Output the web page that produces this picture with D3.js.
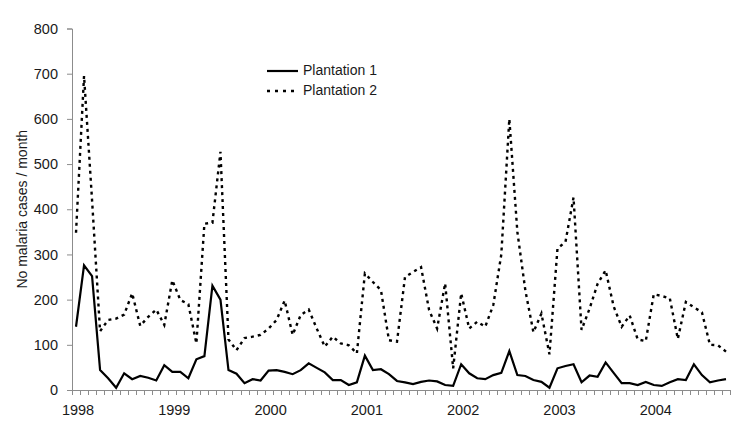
<!DOCTYPE html>
<html>
<head>
<meta charset="utf-8">
<script src="https://cdn.jsdelivr.net/npm/d3@7"></script>
<style>
  html, body { margin: 0; padding: 0; background: #fff; }
  svg { display: block; font-family: "Liberation Sans", Arial, sans-serif; }
</style>
</head>
<body>
<svg id="chart" width="750" height="445"></svg>
<script>
// ---- data (monthly, Jan 1998 – Oct 2004) ----
const startYear = 1998;
const monthCount = 82;
const yearLabels = ["1998", "1999", "2000", "2001", "2002", "2003", "2004"];
const yTicks = [0, 100, 200, 300, 400, 500, 600, 700, 800];
const seriesNames = ["Plantation 1", "Plantation 2"];
const plantation1 = [
  140, 276, 252, 44, 26, 5, 37, 24, 31, 27, 21, 55,
  40, 40, 26, 68, 75, 231, 200, 44, 36, 15, 24, 21,
  43, 44, 40, 35, 44, 59, 49, 39, 22, 22, 11, 17,
  76, 44, 46, 35, 20, 17, 13, 18, 21, 19, 11, 9,
  57, 37, 26, 24, 33, 38, 86, 33, 31, 22, 18, 5,
  48, 53, 57, 17, 32, 29, 61, 38, 15, 15, 11, 18,
  11, 9, 17, 24, 22, 57, 33, 17, 21, 24
];
const plantation2 = [
  348, 695, 420, 130, 155, 158, 167, 214, 142, 162, 178, 144,
  243, 199, 190, 103, 368, 370, 527, 112, 88, 115, 118, 122,
  136, 155, 198, 122, 166, 178, 136, 96, 118, 103, 99, 81,
  258, 239, 221, 110, 107, 250, 261, 272, 177, 136, 236, 48,
  214, 136, 151, 140, 188, 300, 600, 350, 220, 128, 169, 79,
  313, 328, 426, 133, 180, 235, 265, 185, 140, 165, 112, 108,
  212, 208, 203, 113, 195, 183, 172, 100, 99, 85
];

// ---- layout ----
const svg = d3.select("#chart");
const plotLeft = 72, plotRight = 730, plotBottom = 390, plotTop = 28.5;
const months = d3.range(monthCount);

const x = d3.scaleBand().domain(months).range([plotLeft, plotRight]).paddingInner(0).paddingOuter(0);
const y = d3.scaleLinear().domain([0, 800]).range([plotBottom, plotTop]);
const cx = i => x(i) + x.bandwidth() / 2;

const axisColor = "#8c8c8c";
const textColor = "#1a1a1a";

// y axis
const yAxis = svg.append("g").attr("transform", `translate(${plotLeft},0)`)
  .call(d3.axisLeft(y).tickValues(yTicks).tickSize(5).tickPadding(9).tickFormat(d3.format("d")));
yAxis.select(".domain").attr("stroke", axisColor).attr("stroke-width", 1);
yAxis.selectAll(".tick line").attr("stroke", axisColor);
yAxis.selectAll(".tick text").attr("fill", textColor).style("font-size", "14.5px")
  .style("font-family", "'Liberation Sans', Arial, sans-serif");

// x axis: ticks at category boundaries
const xg = svg.append("g");
xg.append("line").attr("x1", plotLeft).attr("x2", plotRight).attr("y1", plotBottom + 0.5).attr("y2", plotBottom + 0.5)
  .attr("stroke", axisColor).attr("stroke-width", 1);
const boundaries = d3.range(monthCount + 1);
xg.selectAll("line.tk").data(boundaries).join("line").attr("class", "tk")
  .attr("x1", d => Math.round(plotLeft + d * x.bandwidth()) + 0.5)
  .attr("x2", d => Math.round(plotLeft + d * x.bandwidth()) + 0.5)
  .attr("y1", plotBottom).attr("y2", plotBottom + 5)
  .attr("stroke", axisColor).attr("stroke-width", 1);
xg.selectAll("text.yr").data(yearLabels).join("text").attr("class", "yr")
  .attr("x", (d, i) => cx(i * 12) + 2)
  .attr("y", 411)
  .attr("text-anchor", "middle").attr("dominant-baseline", "middle")
  .attr("fill", textColor).style("font-size", "14.5px")
  .text(d => d);

// y title
svg.append("text")
  .attr("transform", `translate(23,${(plotTop + plotBottom) / 2}) rotate(-90)`)
  .attr("text-anchor", "middle").attr("dominant-baseline", "middle")
  .attr("fill", textColor).style("font-size", "14px")
  .text("No malaria cases / month");

// lines
const line = d3.line().x((d, i) => cx(i)).y(d => y(d));
svg.append("path").datum(plantation2).attr("d", line)
  .attr("fill", "none").attr("stroke", "#000").attr("stroke-width", 2.4)
  .attr("stroke-dasharray", "3,4");
svg.append("path").datum(plantation1).attr("d", line)
  .attr("fill", "none").attr("stroke", "#000").attr("stroke-width", 2.2)
  .attr("stroke-linejoin", "miter");

// legend
const legend = svg.append("g");
const legY = [71, 91];
seriesNames.forEach((name, k) => {
  legend.append("line").attr("x1", 267).attr("x2", 298).attr("y1", legY[k]).attr("y2", legY[k])
    .attr("stroke", "#000").attr("stroke-width", k === 0 ? 2.2 : 2.4)
    .attr("stroke-dasharray", k === 0 ? null : "3,5");
  legend.append("text").attr("x", 303).attr("y", legY[k])
    .attr("dominant-baseline", "middle").attr("fill", textColor).style("font-size", "14px")
    .text(name);
});
</script>
</body>
</html>
